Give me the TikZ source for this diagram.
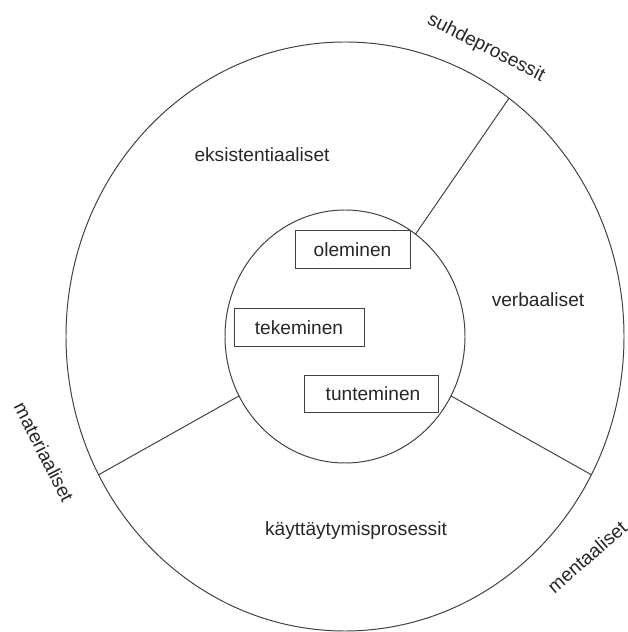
\documentclass[tikz,border=0pt]{standalone}
\usepackage{fontspec}
\setmainfont{Liberation Sans}
\begin{document}
\begin{tikzpicture}[line width=0.7pt,
    every node/.style={font=\fontsize{13.6}{16}\selectfont, text=black!85},
    laatikko/.style={draw=black!75, minimum height=0.93cm, inner sep=0pt}]
                \useasboundingbox (-8.625,-7.3875) rectangle (7.05,8.4125);
                \draw [color=black!75] (0,0) ellipse (6.975cm and 7.3625cm);
                \draw [color=black!75] (0,0) ellipse (3cm and 3.1625cm);
                \draw [color=black!75] (54:3cm and 3.1625cm)--(54:6.975cm and 7.3625cm);
                \draw [color=black!75] (208:3cm and 3.1625cm)--(208:6.975cm and 7.3625cm);
                \draw [color=black!75] (-28:3cm and 3.1625cm)--(-28:6.975cm and 7.3625cm);
                \node (eksist) at (-2.075,4.5375) {eksistentiaaliset};
                \node (verbaal) at (4.825,0.9125) {verbaaliset};
                \node (kayttay) at (0.275,-4.8625) {käyttäytymisprosessit};
                \node [laatikko, minimum width=2.875cm] (olem) at (0.1875,2.175) {oleminen};
                \node [laatikko, minimum width=3.25cm] (teke) at (-1.15,0.225) {tekeminen};
                \node [laatikko, minimum width=3.35cm] (tunt) at (0.65,-1.4375) {\hspace{0.1cm}tunteminen};
                \node [rotate=-27] (suhde) at (3.525,7.2125) {suhdeprosessit};
                \node [rotate=-63] (materiaal) at (-7.525,-2.8875) {materiaaliset};
                \node [rotate=41] (mentaal) at (6.05,-5.5125) {mentaaliset};
            \end{tikzpicture}
\end{document}
